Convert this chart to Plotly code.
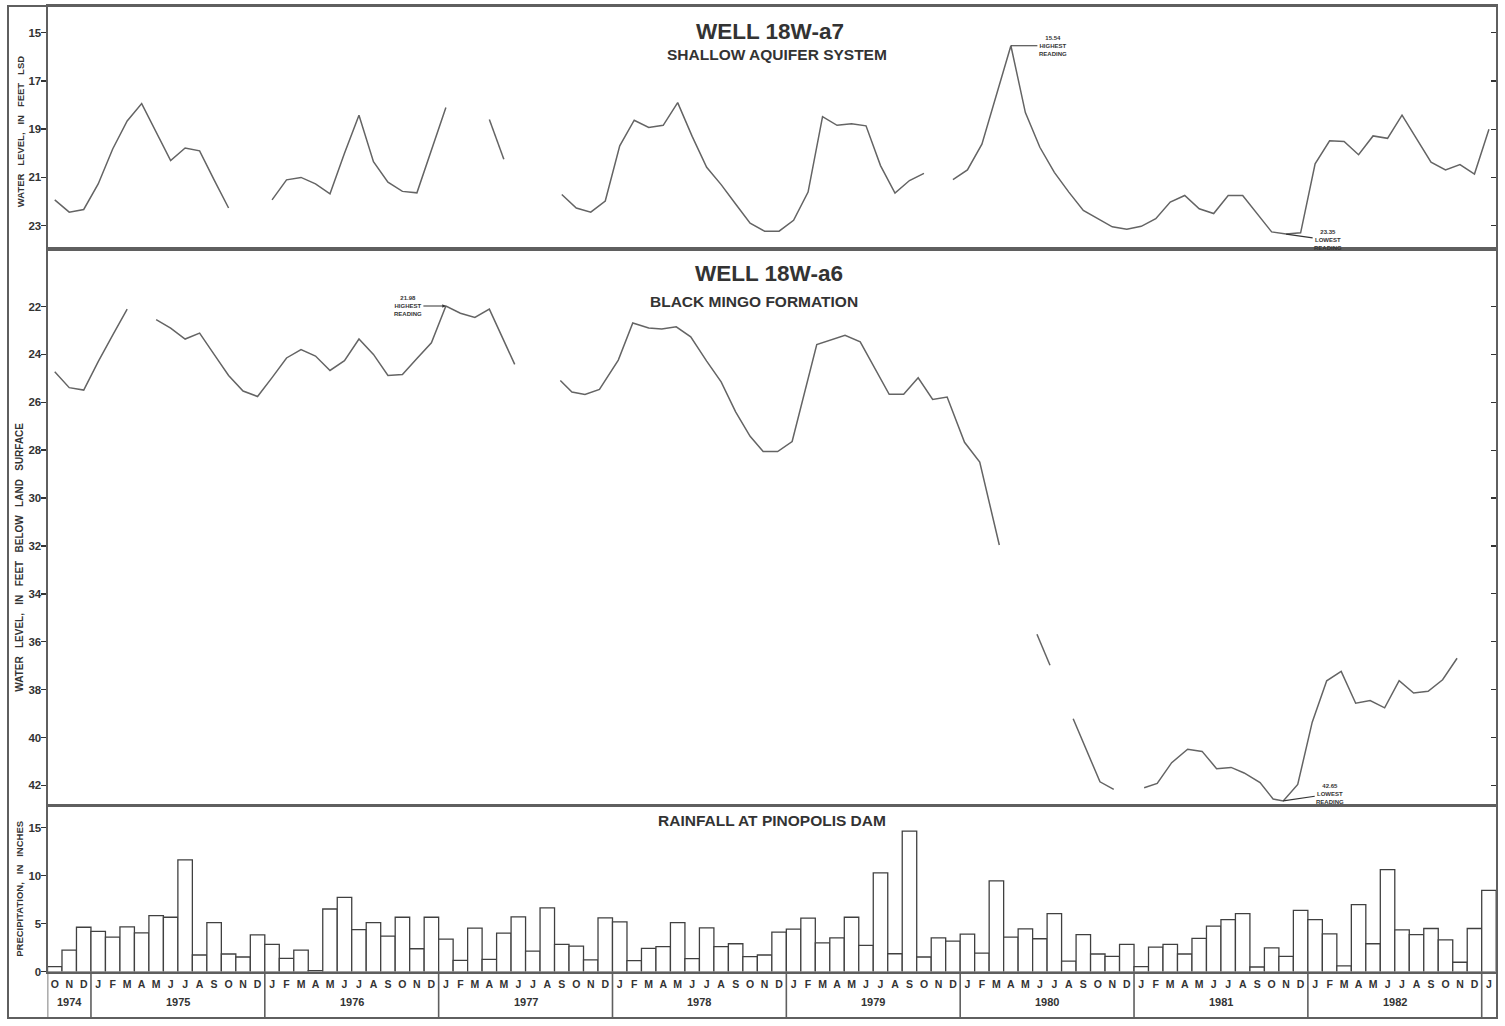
import plotly.graph_objects as go

# ---------------- data ----------------
START_YEAR, START_MONTH, N_MONTHS = 1974, 10, 100
MONTH_LETTERS = "JFMAMJJASOND"

# Well 18W-a7 (shallow aquifer), depth to water in feet, one value per month (None = no record)
a7_level = [21.93, 22.44, 22.33, 21.27, 19.82, 18.66, 17.94, 19.1, 20.3, 19.78,
            19.9, 21.1, 22.27, None, None, 21.93, 21.1, 21.0, 21.27, 21.68,
            20.0, 18.42, 20.35, 21.2, 21.58, 21.64, 19.9, 18.1, None, None,
            18.6, 20.25, None, None, None, 21.71, 22.27, 22.44, 21.98, 19.69,
            18.63, 18.93, 18.84, 17.9, 19.3, 20.58, 21.3, 22.1, 22.9, 23.23,
            23.23, 22.78, 21.61, 18.48, 18.84, 18.77, 18.86, 20.51, 21.65, 21.13,
            20.83, None, 21.09, 20.69, 19.62, 17.6, 15.54, 18.31, 19.75, 20.79,
            21.61, 22.37, 22.71, 23.05, 23.15, 23.03, 22.71, 22.02, 21.75, 22.3,
            22.5, 21.75, 21.75, 22.5, 23.26, 23.35, 23.3, 20.44, 19.48, 19.51,
            20.06, 19.28, 19.38, 18.42, 19.4, 20.37, 20.69, 20.47, 20.86, 19.0]

# Well 18W-a6 (Black Mingo Formation): measurement position (months since Oct 1974) and depth
a6_month = [0, 1, 2, 3, 4, 5, None,
            7, 8, 9, 10, 11, 12, 13, 14, 15, 16, 17, 18, 19, 20, 21, 22, 23, 24, 25,
            26, 27, 28, 29, 30, 31.75, None,
            34.9, 35.7, 36.6, 37.6, 38.9, 39.9, 41.0, 41.9, 42.9, 43.9, 45.0, 46.0,
            47.0, 48.0, 48.9, 49.9, 50.9, 52.6, 54.55, 55.6, 57.6, 58.6, 59.6,
            60.6, 61.6, 62.8, 63.85, 65.2, None,
            67.8, 68.7, None,
            70.3, 72.15, 73.1, None,
            75.2, 76.1, 77.1, 78.2, 79.2, 80.2, 81.2, 82.1, 83.2, 84.1, 84.8, 85.8,
            86.8, 87.8, 88.8, 89.8, 90.8, 91.8, 92.8, 93.8, 94.8, 95.8, 96.8]
a6_level = [24.73, 25.39, 25.49, 24.3, 23.2, 22.11, None,
            22.55, 22.9, 23.36, 23.11, 24.0, 24.88, 25.53, 25.76, 24.97, 24.15, 23.8,
            24.07, 24.67, 24.26, 23.36, 24.0, 24.88, 24.84, 24.17,
            23.52, 21.98, 22.28, 22.46, 22.11, 24.42, None,
            25.09, 25.57, 25.67, 25.46, 24.24, 22.69, 22.9, 22.94, 22.85, 23.27, 24.28, 25.15,
            26.4, 27.42, 28.06, 28.06, 27.64, 23.59, 23.2, 23.48, 25.67, 25.67, 24.98,
            25.88, 25.78, 27.67, 28.5, 31.96, None,
            35.69, 36.98, None,
            39.22, 41.85, 42.17, None,
            42.1, 41.92, 41.05, 40.49, 40.58, 41.3, 41.25, 41.48, 41.88, 42.57, 42.65, 41.96,
            39.36, 37.63, 37.24, 38.57, 38.46, 38.76, 37.63, 38.14, 38.07, 37.59, 36.69]

# Monthly rainfall at Pinopolis Dam, inches
rain = [0.52, 2.24, 4.62, 4.18, 3.59, 4.66, 4.04, 5.83, 5.66, 11.63,
        1.73, 5.11, 1.83, 1.52, 3.83, 2.83, 1.38, 2.24, 0.1, 6.52,
        7.73, 4.38, 5.11, 3.69, 5.66, 2.38, 5.66, 3.38, 1.17, 4.52,
        1.28, 4.0, 5.69, 2.14, 6.63, 2.83, 2.66, 1.21, 5.59, 5.18,
        1.14, 2.42, 2.59, 5.11, 1.35, 4.55, 2.59, 2.9, 1.55, 1.73,
        4.11, 4.42, 5.56, 3.0, 3.52, 5.66, 2.73, 10.28, 1.86, 14.63,
        1.52, 3.52, 3.17, 3.9, 1.93, 9.45, 3.59, 4.45, 3.42, 6.04,
        1.1, 3.86, 1.83, 1.59, 2.83, 0.52, 2.55, 2.83, 1.83, 3.45,
        4.73, 5.42, 6.04, 0.48, 2.48, 1.59, 6.38, 5.42, 3.93, 0.59,
        6.97, 2.9, 10.63, 4.35, 3.86, 4.49, 3.31, 0.97, 4.49, 8.45]

a7_ticks = [15, 17, 19, 21, 23]
a6_ticks = [22, 24, 26, 28, 30, 32, 34, 36, 38, 40, 42]
rain_ticks = [0, 5, 10, 15]

# ---------------- derived categories ----------------
month_idx = list(range(N_MONTHS))
month_year, month_num = [], []
for i in month_idx:
    m0 = START_MONTH - 1 + i
    month_year.append(START_YEAR + m0 // 12)
    month_num.append(m0 % 12 + 1)
month_labels = [MONTH_LETTERS[m - 1] for m in month_num]
labeled_years = sorted(set(month_year))[:-1]          # 1983 has no year label
year_bounds = [i - 0.5 for i in month_idx if month_num[i] == 1] + [-0.5]

# ---------------- geometry ----------------
W, H = 1505, 1026
FONT = "Liberation Sans, Arial, Helvetica, sans-serif"
INK = "#333333"
FRAME = "#5f5f5f"
LINE = "#646464"

def fx(px):
    return px / W

def fy(py):
    return 1 - py / H

x_dom = [fx(47.5), fx(1496.2)]
top_dom = [fy(250), fy(6)]
mid_dom = [fy(810), fy(250)]
bot_dom = [fy(977.3), fy(811)]
xr = [-0.5, N_MONTHS - 0.5]

fig = go.Figure()
fig.add_trace(go.Scatter(x=month_idx, y=a7_level, mode="lines", connectgaps=False,
                         line=dict(color=LINE, width=1.5), xaxis="x", yaxis="y",
                         hoverinfo="skip", showlegend=False))
fig.add_trace(go.Scatter(x=month_idx, y=a7_level, mode="lines", opacity=0,
                         xaxis="x", yaxis="y4", hoverinfo="skip", showlegend=False))
fig.add_trace(go.Scatter(x=a6_month, y=a6_level, mode="lines", connectgaps=False,
                         line=dict(color=LINE, width=1.5), xaxis="x2", yaxis="y2",
                         hoverinfo="skip", showlegend=False))
fig.add_trace(go.Scatter(x=a6_month, y=a6_level, mode="lines", opacity=0,
                         xaxis="x2", yaxis="y5", hoverinfo="skip", showlegend=False))
fig.add_trace(go.Bar(x=month_idx, y=rain, width=1.0, xaxis="x3", yaxis="y3",
                     marker=dict(color="white", line=dict(color="#404040", width=1.3)),
                     hoverinfo="skip", showlegend=False))

tickfont = dict(family=FONT, size=11.5, color=INK, weight="bold")
common_x = dict(domain=x_dom, range=xr, showline=True, mirror=True, linecolor=FRAME,
                linewidth=2, showgrid=False, zeroline=False, fixedrange=True)
common_y = dict(showline=True, mirror=True, linecolor=FRAME, linewidth=2, showgrid=False,
                zeroline=False, ticks="outside", ticklen=5, tickwidth=1.4, tickcolor=INK,
                tickfont=tickfont, ticklabelstandoff=-3, fixedrange=True)
right_y = dict(side="right", showline=False, showgrid=False, zeroline=False, ticks="inside",
               ticklen=5, tickwidth=1.2, tickcolor=INK, showticklabels=False, fixedrange=True)

fig.update_layout(
    width=W, height=H, margin=dict(l=0, r=0, t=0, b=0),
    paper_bgcolor="white", plot_bgcolor="white", bargap=0,
    xaxis=dict(anchor="y", showticklabels=False, ticks="", **common_x),
    xaxis2=dict(anchor="y2", showticklabels=False, ticks="", **common_x),
    xaxis3=dict(anchor="y3", tickmode="array", tickvals=month_idx, ticktext=month_labels,
                ticks="", tickfont=dict(family=FONT, size=10.5, color=INK, weight="bold"),
                ticklabelstandoff=2, **common_x),
    yaxis=dict(domain=top_dom, anchor="x", range=[23.95, 13.89], tickvals=a7_ticks, **common_y),
    yaxis4=dict(overlaying="y", anchor="x", range=[23.95, 13.89], tickvals=a7_ticks, **right_y),
    yaxis2=dict(domain=mid_dom, anchor="x2", range=[42.83, 19.58], tickvals=a6_ticks, **common_y),
    yaxis5=dict(overlaying="y2", anchor="x2", range=[42.83, 19.58], tickvals=a6_ticks, **right_y),
    yaxis3=dict(domain=bot_dom, anchor="x3", range=[0, 17.22], tickvals=rain_ticks, **common_y),
)

# ---------------- frame and label box ----------------
shapes = [dict(type="rect", xref="paper", yref="paper", x0=fx(8), x1=fx(1497),
               y0=fy(1024), y1=fy(6), line=dict(color=FRAME, width=2))]
for b in year_bounds:
    shapes.append(dict(type="line", xref="x3", yref="paper", x0=b, x1=b,
                       y0=fy(1024), y1=fy(977.3), line=dict(color=FRAME, width=1.6)))
fig.update_layout(shapes=shapes)

ann = []

def text(x, y, s, size, xref="paper", yref="paper", angle=0):
    ann.append(dict(x=x, y=y, xref=xref, yref=yref, text=s, showarrow=False, textangle=angle,
                    font=dict(family=FONT, size=size, color=INK), xanchor="center",
                    yanchor="middle"))

sp = "\u00a0\u00a0"
text(fx(770), fy(32), "<b>WELL 18W-a7</b>", 22.5)
text(fx(777), fy(55), "<b>SHALLOW AQUIFER SYSTEM</b>", 15.5)
text(fx(769), fy(275), "<b>WELL 18W-a6</b>", 22.5)
text(fx(754), fy(303), "<b>BLACK MINGO FORMATION</b>", 15.5)
text(fx(772), fy(825), "<b>RAINFALL AT PINOPOLIS DAM</b>", 15.5)
text(fx(20), fy(133), "<b>" + ("WATER LEVEL, IN FEET LSD").replace(" ", " " + sp) + "</b>", 9.5, angle=-90)
text(fx(20), fy(561), "<b>" + ("WATER LEVEL, IN FEET BELOW LAND SURFACE").replace(" ", " " + sp) + "</b>", 10, angle=-90)
text(fx(20), fy(894), "<b>" + ("PRECIPITATION, IN INCHES").replace(" ", " " + sp) + "</b>", 9.5, angle=-90)

for yr in labeled_years:
    idxs = [i for i in month_idx if month_year[i] == yr]
    text(sum(idxs) / len(idxs), fy(1008), "<b>%d</b>" % yr, 11, xref="x3")

# extreme readings
def extreme(xs, ys, which):
    pairs = [(x, y) for x, y in zip(xs, ys) if y is not None]
    return (min if which == "min" else max)(pairs, key=lambda p: p[1])

def reading(pt, label, xref, yref, ax, ay, head):
    ann.append(dict(x=pt[0], y=pt[1], xref=xref, yref=yref,
                    text="<b>%.2f<br>%s<br>READING</b>" % (pt[1], label),
                    showarrow=True, arrowhead=head, arrowsize=0.6, arrowwidth=1.2,
                    arrowcolor=INK, ax=ax, ay=ay, standoff=0,
                    font=dict(family=FONT, size=6, color=INK)))

reading(extreme(month_idx, a7_level, "min"), "HIGHEST", "x", "y", 42, 0, 0)
reading(extreme(month_idx, a7_level, "max"), "LOWEST", "x", "y", 42, 6, 0)
reading(extreme(a6_month, a6_level, "min"), "HIGHEST", "x2", "y2", -38, 0, 2)
reading(extreme(a6_month, a6_level, "max"), "LOWEST", "x2", "y2", 47, -7, 0)

fig.update_layout(annotations=ann)
fig.write_html("out.html", config={"displayModeBar": False, "staticPlot": True},
               post_script="document.body.style.margin='0';document.body.style.overflow='hidden';")
